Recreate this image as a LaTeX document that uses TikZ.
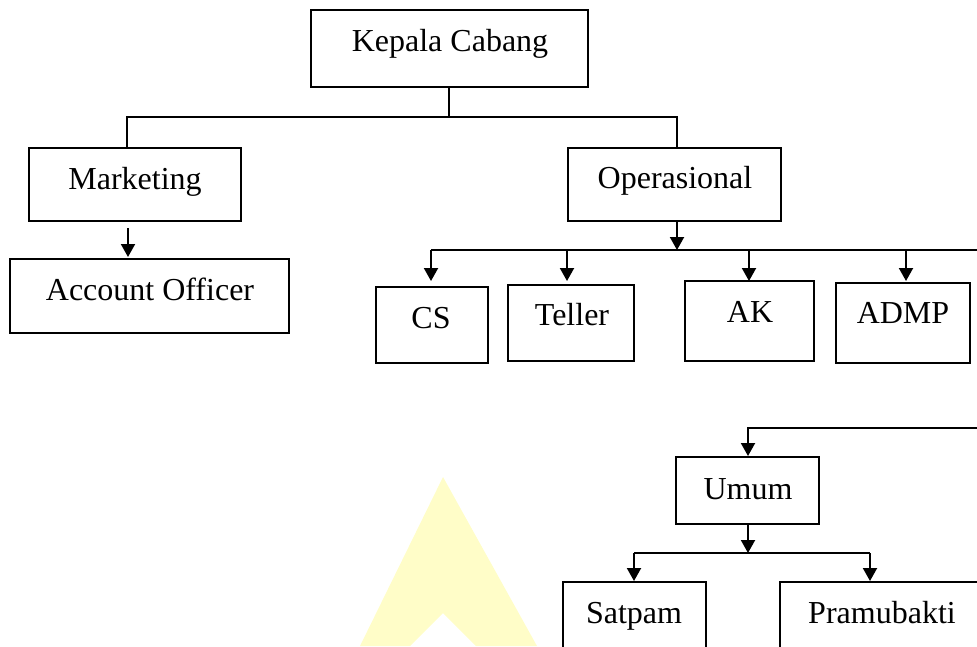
\documentclass[tikz,border=0pt]{standalone}
\usepackage{fontspec}
\setmainfont{Liberation Serif}
\usetikzlibrary{arrows.meta}
\begin{document}
\begin{tikzpicture}[x=1pt,y=-1pt,
  box/.style={draw=black, line width=2pt, rectangle, inner sep=0pt},
  lbl/.style={inner sep=0pt, anchor=base, font=\fontsize{32}{38}\selectfont},
  ln/.style={draw=black, line width=2pt},
  arr/.style={ln, -{Triangle[length=13pt,width=14pt]}},
  wm/.style={fill={rgb,255:red,255;green,253;blue,200}, draw=none}
]
\useasboundingbox (0,0) rectangle (977,646);
\clip (0,0) rectangle (977,646);
% watermark
\fill[wm] (360,646) -- (443,477) -- (537,646) -- (476,646) -- (443,613) -- (410,646) -- cycle;

% boxes
\node[box, minimum width=277pt, minimum height=77pt] (kc) at (449.5,48.5) {};
\node[box, minimum width=212pt, minimum height=73pt] (mk) at (135,184.5) {};
\node[box, minimum width=279pt, minimum height=74pt] (ao) at (149.5,296) {};
\node[box, minimum width=213pt, minimum height=73pt] (op) at (674.5,184.5) {};
\node[box, minimum width=112pt, minimum height=76pt] (cs) at (432,325) {};
\node[box, minimum width=126pt, minimum height=76pt] (tl) at (571,323) {};
\node[box, minimum width=129pt, minimum height=80pt] (ak) at (749.5,321) {};
\node[box, minimum width=134pt, minimum height=80pt] (ad) at (903,323) {};
\node[box, minimum width=143pt, minimum height=67pt] (um) at (747.5,490.5) {};
\node[box, minimum width=143pt, minimum height=98pt] (sp) at (634.5,631) {};
\node[box, minimum width=204pt, minimum height=98pt] (pb) at (882,631) {};

% labels
\node[lbl] (tkc) at (450,51) {Kepala Cabang};
\node[lbl] (tmk) at (135,189) {Marketing};
\node[lbl] (tao) at (150,300) {Account Officer};
\node[lbl] (top) at (675,188) {Operasional};
\node[lbl] (tcs) at (431,328) {CS};
\node[lbl] (ttl) at (572,325) {Teller};
\node[lbl] (tak) at (750,322) {AK};
\node[lbl] (tad) at (903,323) {ADMP};
\node[lbl] (tum) at (748,499) {Umum};
\node[lbl] (tsp) at (634,623) {Satpam};
\node[lbl] (tpb) at (882,623) {Pramubakti};

% connectors: Kepala Cabang
\coordinate (j1) at (449,117);
\coordinate (j1l) at (127,117);
\coordinate (j1r) at (677,117);
\draw[ln] (kc.south -| j1) -- (j1);
\draw[ln] (j1l |- mk.north) -- (j1l) -- (j1r) -- (j1r |- op.north);

% Marketing -> Account Officer
\coordinate (m1) at (128,228);
\coordinate (m2) at (128,257);
\draw[arr] (m1) -- (m2);

% Operasional -> staff
\coordinate (o1) at (677,250);
\coordinate (oL) at (431,250);
\coordinate (oR) at (985,250);
\draw[arr] (op.south -| o1) -- (o1);
\draw[ln] (oL) -- (oR);
\draw[arr] (oL) -- (431,281);
\draw[arr] (567,250) -- (567,281);
\draw[arr] (749,250) -- (749,281);
\draw[arr] (906,250) -- (906,281);

% Umum
\coordinate (u0) at (985,428);
\coordinate (u1) at (748,428);
\draw[arr] (u0) -- (u1) -- (u1 |- um.north);
\coordinate (u2) at (748,553);
\draw[arr] (um.south -| u2) -- (u2);
\coordinate (uL) at (634,553);
\coordinate (uR) at (870,553);
\draw[ln] (uL) -- (uR);
\draw[arr] (uL) -- (uL |- sp.north);
\draw[arr] (uR) -- (uR |- pb.north);
\end{tikzpicture}
\end{document}
